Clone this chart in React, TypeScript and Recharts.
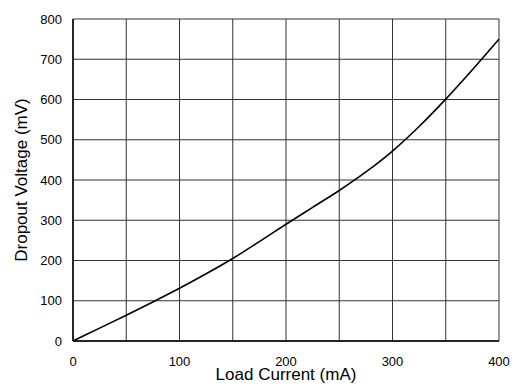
import { LineChart, Line, XAxis, YAxis, CartesianGrid } from "recharts";

const loadCurrent = [0, 25, 50, 75, 100, 125, 150, 175, 200, 225, 250, 275, 300, 325, 350, 375, 400];
const dropoutMv = [0, 32, 64, 97, 131, 167, 205, 247, 290, 332, 374, 420, 472, 533, 601, 674, 750];

const xTicks = [0, 50, 100, 150, 200, 250, 300, 350, 400];
const yTicks = [0, 100, 200, 300, 400, 500, 600, 700, 800];

const data = loadCurrent.map((x, i) => ({ x, v: dropoutMv[i] }));

const font = "'Liberation Sans', Arial, sans-serif";

export default function App() {
  return (
    <div style={{ position: "absolute", left: 0, top: 0, background: "#fff" }}>
      <LineChart
        width={518}
        height={389}
        data={data}
        margin={{ top: 19, right: 19, left: 0, bottom: 0 }}
        style={{ fontFamily: font }}
      >
        <CartesianGrid stroke="#333" strokeWidth={1} />
        <XAxis
          dataKey="x"
          type="number"
          domain={[0, 400]}
          ticks={xTicks}
          tickFormatter={(v: number) => (v % 100 === 0 ? String(v) : "")}
          height={48}
          tickLine={false}
          tickSize={14}
          tickMargin={2}
          axisLine={{ stroke: "#000", strokeWidth: 1.5 }}
          tick={{ fill: "#000", fontSize: 13 }}
          label={{ value: "Load Current (mA)", position: "insideBottom", offset: 9, fill: "#000", fontSize: 17 }}
        />
        <YAxis
          type="number"
          domain={[0, 800]}
          ticks={yTicks}
          width={73}
          tickLine={false}
          tickSize={9}
          tickMargin={2}
          axisLine={{ stroke: "#000", strokeWidth: 1.5 }}
          tick={{ fill: "#000", fontSize: 13 }}
          label={{
            value: "Dropout Voltage (mV)",
            angle: -90,
            position: "insideLeft",
            offset: 21,
            fill: "#000",
            fontSize: 17,
            style: { textAnchor: "middle" },
          }}
        />
        <Line
          type="monotone"
          dataKey="v"
          stroke="#000"
          strokeWidth={1.6}
          dot={false}
          isAnimationActive={false}
        />
      </LineChart>
    </div>
  );
}
